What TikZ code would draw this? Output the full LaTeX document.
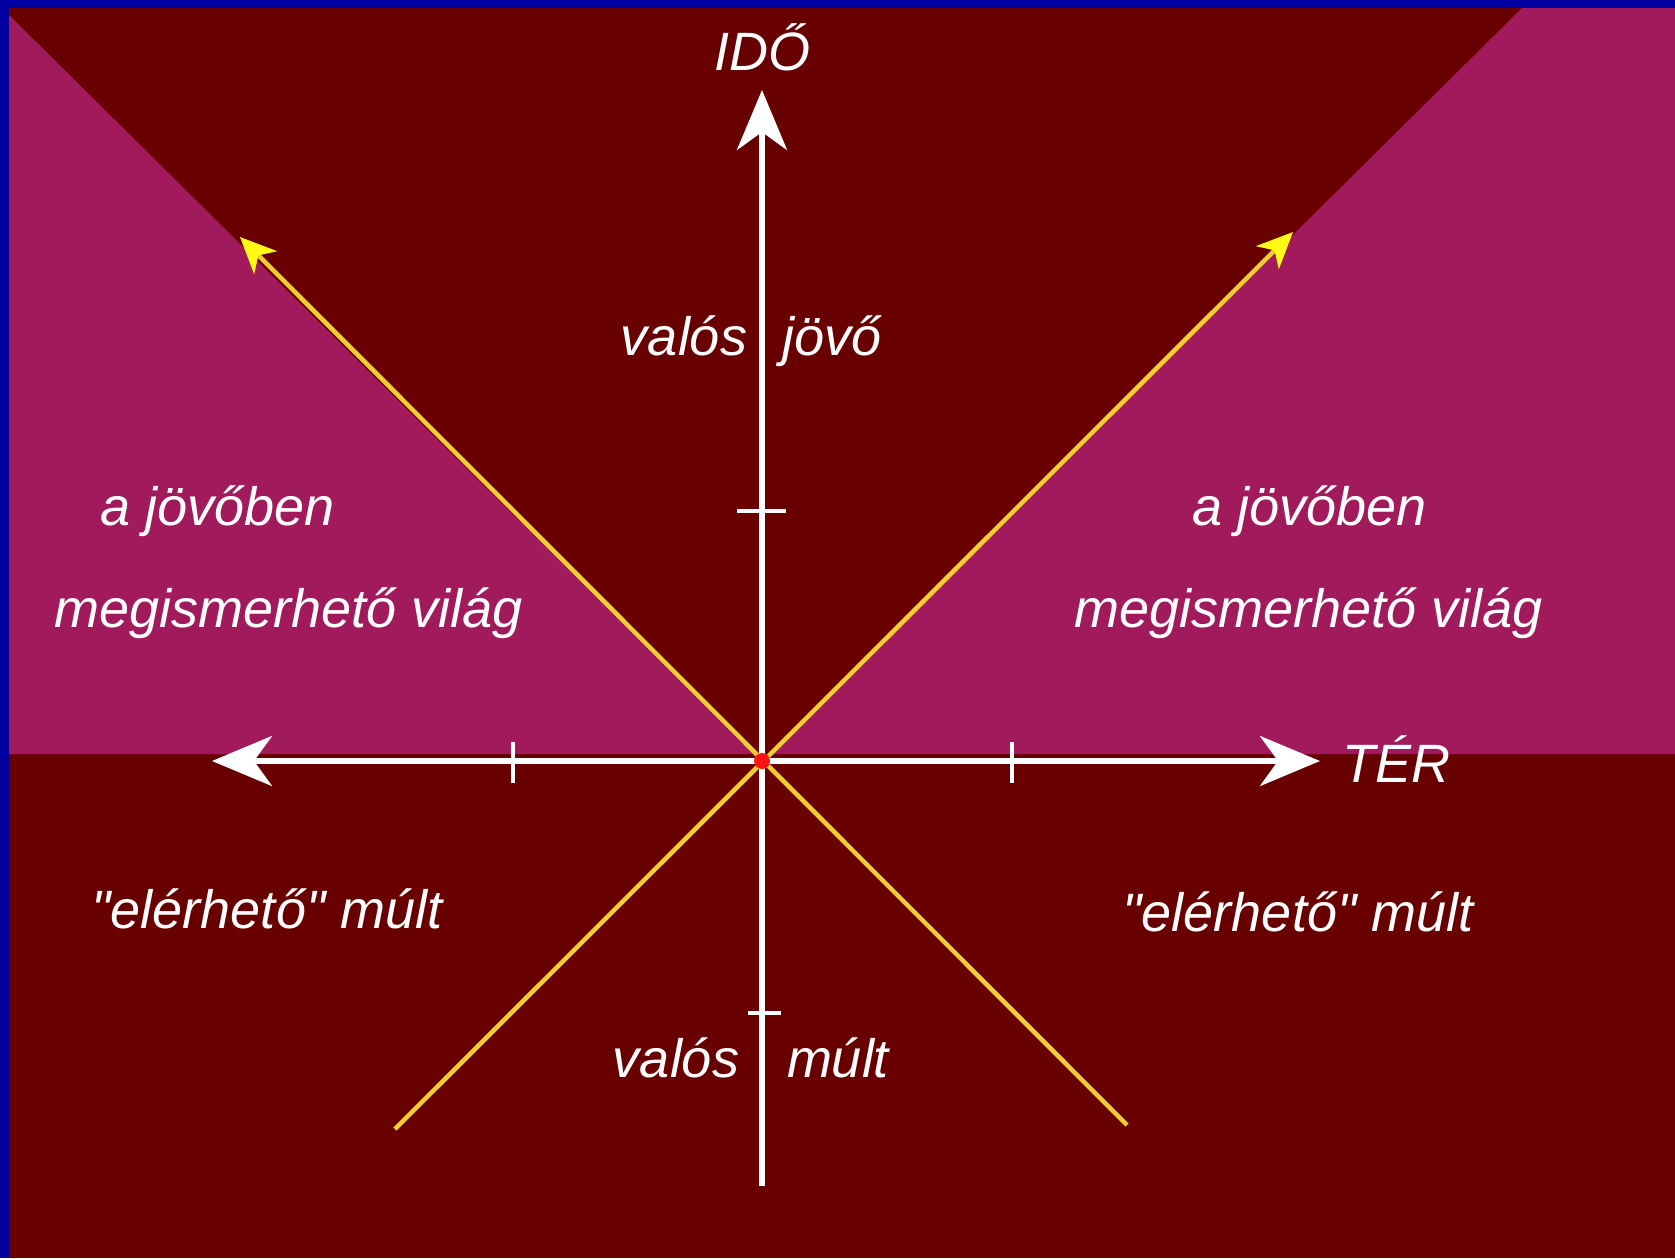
\documentclass[tikz,border=0pt]{standalone}
\usepackage{fontspec}
\setmainfont{Liberation Sans}[Ligatures=TeXOff]
\usetikzlibrary{arrows.meta}
\definecolor{bgblue}{RGB}{0,0,160}
\definecolor{darkred}{RGB}{104,0,0}
\definecolor{conepink}{RGB}{160,26,92}
\definecolor{lightgold}{RGB}{240,205,50}
\definecolor{tipyellow}{RGB}{255,250,20}
\definecolor{dotred}{RGB}{255,20,20}
\tikzset{
  axhead/.tip={Stealth[length=60pt,width=50pt,inset=18pt]},
  conetip/.tip={Stealth[length=36pt,width=32pt,inset=10pt,fill=tipyellow,color=tipyellow]}
}
\begin{document}
\begin{tikzpicture}[x=1pt,y=-1pt,
  lbl/.style={text=white,font=\fontsize{54}{60}\selectfont\itshape,inner sep=0pt,anchor=base},
  axisline/.style={white,line width=5.5pt},
  coneline/.style={lightgold,line width=4.5pt},
  tickmark/.style={white,line width=3.5pt}]
\useasboundingbox (0,0) rectangle (1675,1258);
% background and border
\fill[bgblue] (0,0) rectangle (1675,1258);
\fill[darkred] (9,8) rectangle (1675,1258);
% light-cone regions
\fill[conepink] (9,15) -- (755,754) -- (9,754) -- cycle;
\fill[conepink] (1675,8) -- (1522,8) -- (769,754) -- (1675,754) -- cycle;
% coordinates
\coordinate (O) at (762,761);
\coordinate (Top) at (762,90);
\coordinate (Bot) at (762,1186);
\coordinate (Left) at (212,761);
\coordinate (Right) at (1320,761);
\coordinate (ConeUL) at (240,237);
\coordinate (ConeUR) at (1293,232);
\coordinate (ConeLL) at (395,1129);
\coordinate (ConeLR) at (1127,1125);
% light cone lines
\draw[coneline,-conetip] (ConeLL) -- (ConeUR);
\draw[coneline,-conetip] (ConeLR) -- (ConeUL);
% axes
\draw[axisline,-axhead] (Bot) -- (Top);
\draw[axisline,axhead-axhead] (Left) -- (Right);
% ticks
\coordinate (TkT1) at (737,511); \coordinate (TkT2) at (786,511);
\coordinate (TkB1) at (748,1013); \coordinate (TkB2) at (781,1013);
\coordinate (TkL1) at (513,742); \coordinate (TkL2) at (513,783);
\coordinate (TkR1) at (1012,742); \coordinate (TkR2) at (1012,783);
\draw[tickmark] (TkT1) -- (TkT2);
\draw[tickmark] (TkB1) -- (TkB2);
\draw[tickmark] (TkL1) -- (TkL2);
\draw[tickmark] (TkR1) -- (TkR2);
% origin
\fill[dotred] (O) circle (8);
% labels
\node[lbl] (ido) at (762,70) {IDŐ};
\node[lbl] (ter) at (1396,782) {TÉR};
\node[lbl] (valosT) at (684,355) {valós};
\node[lbl] (jovo) at (832,355) {jövő};
\node[lbl] (ajL) at (218,525) {a jövőben};
\node[lbl] (megL) at (289,627) {megismerhető világ};
\node[lbl] (ajR) at (1310,525) {a jövőben};
\node[lbl] (megR) at (1309,627) {megismerhető világ};
\node[lbl] (elL) at (267,928) {"elérhető" múlt};
\node[lbl] (elR) at (1298,931) {"elérhető" múlt};
\node[lbl] (valosB) at (676,1077) {valós};
\node[lbl] (mult) at (838,1077) {múlt};
\end{tikzpicture}
\end{document}
